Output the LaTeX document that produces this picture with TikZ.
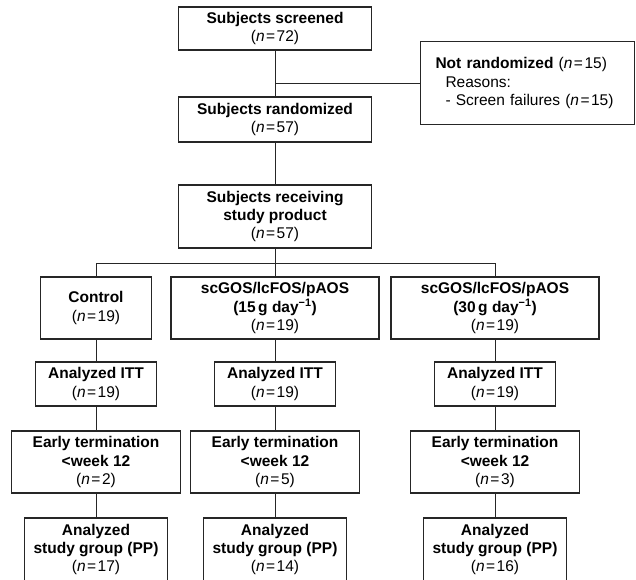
\documentclass[tikz,border=0pt]{standalone}
\usepackage{fontspec}
\setmainfont{Liberation Sans}

\tikzstyle{flowbox} = [draw=black!85, fill=white, line width=1.1pt,
    rectangle, inner sep=0pt, align=center,
    font=\fontsize{15.5}{18.3}\selectfont]
\tikzstyle{link} = [draw=black!85, line width=1pt]
\newcommand{\nn}[1]{(\textit{n}\hspace{1.5pt}=\hspace{1.5pt}#1)}

\begin{document}
\begin{tikzpicture}[x=1pt, y=-1pt]
    \useasboundingbox (0,0) rectangle (636,579);
%------------ Screening and randomization ---------------------
\node[flowbox, minimum width=193pt, minimum height=43pt] (screened) at (275,28.5)
    {\textbf{Subjects screened}\\\nn{72}};
\node[flowbox, minimum width=193pt, minimum height=45pt] (randomized) at (275,119.5)
    {\textbf{Subjects randomized}\\\nn{57}};
\node[flowbox, minimum width=193pt, minimum height=63pt] (receiving) at (275,216.5)
    {\textbf{Subjects receiving}\\\textbf{study product}\\\nn{57}};
\node[flowbox, anchor=north west, align=left, text width=184pt, inner xsep=15pt,
    minimum height=83pt] (notrand) at (420,41)
    {\textbf{Not randomized} \nn{15}\\
     \hspace*{10pt}Reasons:\\
     \hspace*{10pt}- Screen failures \nn{15}};

%------------ Study arms ---------------------
\node[flowbox, minimum width=111pt, minimum height=62pt] (control) at (96,308)
    {\textbf{Control}\\\nn{19}};
\node[flowbox, minimum width=208pt, minimum height=62pt] (low) at (275,308)
    {\textbf{scGOS/lcFOS/pAOS}\\\textbf{(15\,g day\textsuperscript{−1})}\\\nn{19}};
\node[flowbox, minimum width=208pt, minimum height=62pt] (high) at (495,308)
    {\textbf{scGOS/lcFOS/pAOS}\\\textbf{(30\,g day\textsuperscript{−1})}\\\nn{19}};

%------------ Analyzed ITT ---------------------
\node[flowbox, minimum width=121pt, minimum height=44pt] (ittcontrol) at (96,384)
    {\textbf{Analyzed ITT}\\\nn{19}};
\node[flowbox, minimum width=121pt, minimum height=44pt] (ittlow) at (275,384)
    {\textbf{Analyzed ITT}\\\nn{19}};
\node[flowbox, minimum width=121pt, minimum height=44pt] (itthigh) at (495,384)
    {\textbf{Analyzed ITT}\\\nn{19}};

%------------ Early termination ---------------------
\node[flowbox, minimum width=169pt, minimum height=62pt] (etcontrol) at (96,462)
    {\textbf{Early termination}\\\textbf{<week 12}\\\nn{2}};
\node[flowbox, minimum width=169pt, minimum height=62pt] (etlow) at (275,462)
    {\textbf{Early termination}\\\textbf{<week 12}\\\nn{5}};
\node[flowbox, minimum width=169pt, minimum height=62pt] (ethigh) at (495,462)
    {\textbf{Early termination}\\\textbf{<week 12}\\\nn{3}};

%------------ Analyzed PP ---------------------
\node[flowbox, minimum width=143pt, minimum height=63pt] (ppcontrol) at (96,549.5)
    {\textbf{Analyzed}\\\textbf{study group (PP)}\\\nn{17}};
\node[flowbox, minimum width=143pt, minimum height=63pt] (pplow) at (275,549.5)
    {\textbf{Analyzed}\\\textbf{study group (PP)}\\\nn{14}};
\node[flowbox, minimum width=143pt, minimum height=63pt] (pphigh) at (495,549.5)
    {\textbf{Analyzed}\\\textbf{study group (PP)}\\\nn{16}};

%------------ Connectors ---------------------
\draw[link] (screened.south) -- (randomized.north);
\draw[link] (screened.south |- notrand.west) -- (notrand.west);
\draw[link] (randomized.south) -- (receiving.north);
\coordinate (split) at (275,263);
\draw[link] (receiving.south) -- (split);
\draw[link] (control.north) -- (control.north |- split) -- (high.north |- split) -- (high.north);
\draw[link] (split) -- (low.north);
\draw[link] (control.south) -- (ittcontrol.north);
\draw[link] (low.south) -- (ittlow.north);
\draw[link] (high.south) -- (itthigh.north);
\draw[link] (ittcontrol.south) -- (etcontrol.north);
\draw[link] (ittlow.south) -- (etlow.north);
\draw[link] (itthigh.south) -- (ethigh.north);
\draw[link] (etcontrol.south) -- (ppcontrol.north);
\draw[link] (etlow.south) -- (pplow.north);
\draw[link] (ethigh.south) -- (pphigh.north);
\end{tikzpicture}
\end{document}
